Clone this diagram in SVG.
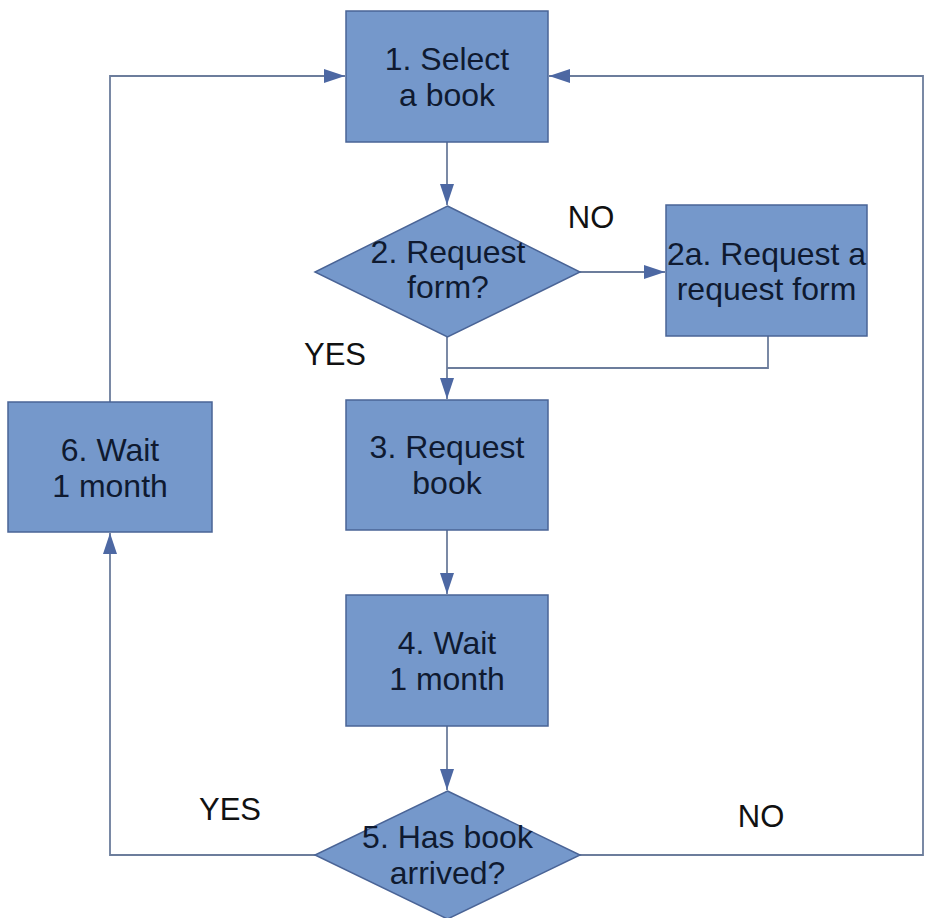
<svg xmlns="http://www.w3.org/2000/svg" width="925" height="918" viewBox="0 0 925 918">
<style>
.box{fill:#7598cb;stroke:#4a6496;stroke-width:1.5}
.t{font-family:"Liberation Sans",Arial,sans-serif;font-size:32px;fill:#0f1a30;text-anchor:middle}
.lbl{font-family:"Liberation Sans",Arial,sans-serif;font-size:31px;fill:#111;text-anchor:middle}
.c{fill:none;stroke:#6c7d9c;stroke-width:1.8}
</style>
<defs>
<marker id="ah" markerUnits="userSpaceOnUse" markerWidth="22" markerHeight="14" refX="21" refY="7" orient="auto">
<path d="M0,0 L21,7 L0,14 Z" fill="#4d68a3"/>
</marker>
</defs>
<rect width="925" height="918" fill="#ffffff"/>
<g id="connectors">
<path class="c" d="M447,142 V205" marker-end="url(#ah)"/>
<path class="c" d="M580,272 H665" marker-end="url(#ah)"/>
<path class="c" d="M447,337 V399" marker-end="url(#ah)"/>
<path class="c" d="M768,336 V368 H447"/>
<path class="c" d="M447,530 V594" marker-end="url(#ah)"/>
<path class="c" d="M447,726 V790" marker-end="url(#ah)"/>
<path class="c" d="M315,855 H110 V533" marker-end="url(#ah)"/>
<path class="c" d="M110,402 V76 H345" marker-end="url(#ah)"/>
<path class="c" d="M580,855 H923 V76 H549" marker-end="url(#ah)"/>
</g>
<g id="n1">
<rect class="box" x="346" y="11" width="202" height="131"/>
<text class="t" x="447" y="70">1. Select</text>
<text class="t" x="447" y="106">a book</text>
</g>
<g id="n2">
<polygon class="box" points="447.5,206 580,272 447.5,337 315,272"/>
<text class="t" x="448" y="263">2. Request</text>
<text class="t" x="448" y="298">form?</text>
</g>
<g id="n2a">
<rect class="box" x="666" y="205" width="201" height="131"/>
<text class="t" x="766.5" y="265">2a. Request a</text>
<text class="t" x="766.5" y="300">request form</text>
</g>
<g id="n3">
<rect class="box" x="346" y="400" width="202" height="130"/>
<text class="t" x="447" y="458">3. Request</text>
<text class="t" x="447" y="494">book</text>
</g>
<g id="n4">
<rect class="box" x="346" y="595" width="202" height="131"/>
<text class="t" x="447" y="654">4. Wait</text>
<text class="t" x="447" y="690">1 month</text>
</g>
<g id="n5">
<polygon class="box" points="447.5,791 580,855 447.5,919 315,855"/>
<text class="t" x="447.5" y="848">5. Has book</text>
<text class="t" x="447.5" y="884">arrived?</text>
</g>
<g id="n6">
<rect class="box" x="8" y="402" width="204" height="130"/>
<text class="t" x="110" y="461">6. Wait</text>
<text class="t" x="110" y="497">1 month</text>
</g>
<g id="labels">
<text class="lbl" x="591" y="228">NO</text>
<text class="lbl" x="335" y="365">YES</text>
<text class="lbl" x="230" y="820">YES</text>
<text class="lbl" x="761" y="827">NO</text>
</g>
</svg>
